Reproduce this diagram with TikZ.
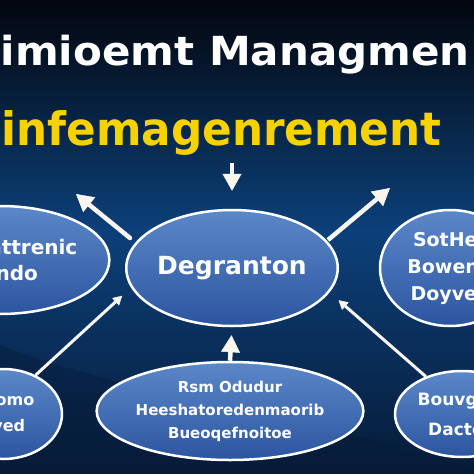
\documentclass[tikz,border=0pt]{standalone}
\usepackage{fontspec}
\setmainfont{DejaVu Sans}
\usepackage{tikz}
\usetikzlibrary{arrows.meta,shapes.geometric}

\definecolor{bgtop}{HTML}{03060D}
\definecolor{bgmid}{HTML}{0C4079}
\definecolor{bgbot}{HTML}{061B38}
\definecolor{bubbletop}{HTML}{5B88C9}
\definecolor{bubblebot}{HTML}{2C559F}
\definecolor{titleyellow}{HTML}{F6D200}
\definecolor{arrowwhite}{HTML}{F8F6EE}

\begin{document}
\begin{tikzpicture}[x=1pt,y=-1pt,
	topic node/.style={ellipse,draw=white,line width=2.5pt,top color=bubbletop,bottom color=bubblebot,text=white,font=\bfseries,align=center,inner sep=0pt},
	big arrow/.style={-{Triangle[length=17pt,width=19pt,fill=arrowwhite,line width=0.5pt]},line width=4.5pt,color=arrowwhite},
	thin arrow/.style={-{Triangle[length=9pt,width=10pt,fill=arrowwhite,line width=0.5pt]},line width=3pt,color=arrowwhite}]
	\useasboundingbox (0,0) rectangle (474,474);
	\clip (0,0) rectangle (474,474);
	\shade[top color=bgtop,bottom color=bgmid] (0,0) rectangle (474,230);
	\shade[top color=bgmid,bottom color=bgbot] (0,229) rectangle (474,474);
	\fill[bgbot,opacity=0.45] (0,345) .. controls (140,400) and (330,420) .. (474,470) -- (474,474) -- (0,474) -- cycle;

	\node[anchor=base west,xscale=1.05,text=white,font=\bfseries\fontsize{40}{40}\selectfont] (t1) at (-3,65) {imioemt Managmen};
	\node[anchor=base west,xscale=0.95,text=titleyellow,font=\bfseries\fontsize{46}{46}\selectfont] (t2) at (-2,145) {infemagenrement};

	\node[topic node,minimum width=186pt,minimum height=116pt,font=\bfseries\fontsize{25}{28}\selectfont] (1) at (232,268) {Degranton};
	\node[topic node,minimum width=164pt,minimum height=108pt,font=\bfseries\fontsize{20}{26}\selectfont] (2) at (0,260) {Intemattrenic\\Mando};
	\node[topic node,minimum width=140pt,minimum height=116pt,font=\bfseries\fontsize{19}{27}\selectfont] (3) at (450,268) {SotHer\\Bowend\\Doyvey};
	\node[topic node,minimum width=118pt,minimum height=90pt,font=\bfseries\fontsize{16}{26}\selectfont] (4) at (3,414) {Eitomo\\Syed};
	\node[topic node,minimum width=216pt,minimum height=98pt,font=\bfseries\fontsize{15}{23}\selectfont] (5) at (230,411) {Rsm Odudur\\Heeshatoredenmaorib\\Bueoqefnoitoe};
	\node[topic node,minimum width=134pt,minimum height=86pt,font=\bfseries\fontsize{17}{30}\selectfont] (6) at (462,414) {Bouvgoly\\Dacton};

	\coordinate (top) at (232,163);
	\coordinate (lt) at (130,238);
	\coordinate (lh) at (76,194);
	\coordinate (rt) at (328,240);
	\coordinate (rh) at (390,188);

	\path[big arrow]
		(top) edge[shorten >=18pt] (1.north)
		(lt) edge[line cap=round] (lh)
		(rt) edge (rh)
		(5.north) edge[shorten >=8pt] (1.south);
	\path[thin arrow]
		(4.50) edge[shorten >=12pt] (1.191)
		(6.134) edge[shorten >=12pt] (1.346);
\end{tikzpicture}
\end{document}
